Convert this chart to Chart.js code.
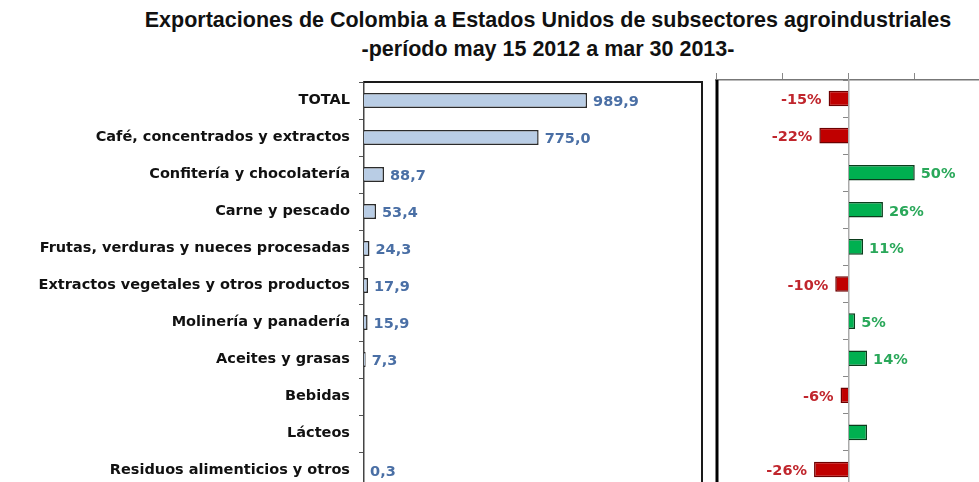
<!DOCTYPE html>
<html>
<head>
<meta charset="utf-8">
<script src="https://cdn.jsdelivr.net/npm/chart.js@4/dist/chart.umd.min.js"></script>
<style>
  html, body { margin: 0; padding: 0; background: #fff; overflow: hidden; width: 979px; height: 482px; }
  #titulo {
    position: absolute; left: 117px; top: 6px; width: 862px;
    text-align: center; font-family: "Liberation Sans", Arial, sans-serif;
    font-weight: bold; font-size: 21.5px; line-height: 29px; color: #111;
  }
  #izq { position: absolute; left: 0; top: 0; }
  #der { position: absolute; left: 700px; top: 0; }
</style>
</head>
<body>
<div id="titulo">Exportaciones de Colombia a Estados Unidos de subsectores agroindustriales<br>-período may 15 2012 a mar 30 2013-</div>
<canvas id="izq" width="712" height="491"></canvas>
<canvas id="der" width="284" height="491"></canvas>
<script>
const categorias = [
  'TOTAL',
  'Café, concentrados y extractos',
  'Confitería y chocolatería',
  'Carne y pescado',
  'Frutas, verduras y nueces procesadas',
  'Extractos vegetales y otros productos',
  'Molinería y panadería',
  'Aceites y grasas',
  'Bebidas',
  'Lácteos',
  'Residuos alimenticios y otros'
];
// millones de USD
const exportaciones = [989.9, 775.0, 88.7, 53.4, 24.3, 17.9, 15.9, 7.3, null, null, 0.3];
// variación %
const variacion = [-15, -22, 50, 26, 11, -10, 5, 14, -6, 14, -26];
const mostrarVariacion = [true, true, true, true, true, true, true, true, true, false, true];
const ticksVariacion = [-100, -50, 0, 50, 100];

const fuenteEtiq = 'bold 14.5px "DejaVu Sans", Verdana, sans-serif';

function etiquetas(id, formato, colorPos, colorNeg, mostrar) {
  return {
    id: id,
    afterDatasetsDraw(chart) {
      const ctx = chart.ctx;
      const meta = chart.getDatasetMeta(0);
      const datos = chart.data.datasets[0].data;
      ctx.save();
      ctx.font = fuenteEtiq;
      ctx.textBaseline = 'middle';
      meta.data.forEach((barra, i) => {
        const v = datos[i];
        if (v === null || !mostrar[i]) return;
        const txt = formato(v);
        if (v < 0) {
          ctx.textAlign = 'right';
          ctx.fillStyle = colorNeg;
          ctx.fillText(txt, barra.x - 7, barra.y + 2);
        } else {
          ctx.textAlign = 'left';
          ctx.fillStyle = colorPos;
          ctx.fillText(txt, barra.x + 6, barra.y + 2);
        }
      });
      ctx.restore();
    }
  };
}

const marcoIzq = {
  id: 'marcoIzq',
  afterDraw(chart) {
    const a = chart.chartArea;
    const ctx = chart.ctx;
    ctx.save();
    ctx.strokeStyle = '#1a1a1a';
    ctx.lineWidth = 2;
    ctx.beginPath();
    ctx.moveTo(a.left, a.top);
    ctx.lineTo(a.right, a.top);
    ctx.lineTo(a.right, a.bottom + 5);
    ctx.stroke();
    ctx.restore();
  }
};

const marcoDer = {
  id: 'marcoDer',
  afterDraw(chart) {
    const a = chart.chartArea;
    const ctx = chart.ctx;
    ctx.save();
    ctx.strokeStyle = '#000';
    ctx.lineWidth = 3;
    ctx.beginPath();
    ctx.moveTo(a.left + 1, a.top);
    ctx.lineTo(a.left + 1, a.bottom + 5);
    ctx.stroke();
    ctx.restore();
  }
};

const coma = v => v.toFixed(1).replace('.', ',');

new Chart(document.getElementById('izq'), {
  type: 'bar',
  data: {
    labels: categorias,
    datasets: [{
      data: exportaciones,
      backgroundColor: '#b9cde5',
      borderColor: '#2b2b2b',
      borderWidth: 1.5,
      borderSkipped: 'left',
      categoryPercentage: 1,
      barPercentage: 0.4
    }]
  },
  options: {
    indexAxis: 'y',
    responsive: false,
    animation: false,
    layout: { padding: { top: 82, right: 10, bottom: 2, left: 0 } },
    plugins: { legend: { display: false }, title: { display: false }, tooltip: { enabled: false } },
    scales: {
      x: { display: false, min: 0, max: 1500 },
      y: {
        afterFit: s => { s.width = 364; s.paddingTop = 0; s.paddingBottom = 0; },
        ticks: {
          color: '#111',
          padding: 9,
          font: { family: '"DejaVu Sans", Verdana, sans-serif', size: 14.5, weight: 'bold' }
        },
        grid: { drawOnChartArea: false, tickLength: 5, color: '#555', offset: true },
        border: { color: '#444', width: 1.5 }
      }
    }
  },
  plugins: [etiquetas('etiqIzq', coma, '#4a6fa5', '#4a6fa5', exportaciones.map(() => true)), marcoIzq]
});

new Chart(document.getElementById('der'), {
  type: 'bar',
  data: {
    labels: categorias,
    datasets: [{
      data: variacion,
      backgroundColor: variacion.map(v => v < 0 ? '#c00000' : '#00b050'),
      borderColor: variacion.map(v => v < 0 ? '#6e0000' : '#0b3d1c'),
      borderWidth: 1.5,
      borderSkipped: 'start',
      categoryPercentage: 1,
      barPercentage: 0.42
    }]
  },
  options: {
    indexAxis: 'y',
    responsive: false,
    animation: false,
    layout: { padding: { top: 0, right: 3, bottom: 3, left: 16 } },
    plugins: { legend: { display: false }, title: { display: false }, tooltip: { enabled: false } },
    scales: {
      x: {
        position: 'top',
        min: -100,
        max: 100,
        afterBuildTicks: s => { s.ticks = ticksVariacion.map(v => ({ value: v })); },
        afterFit: s => { s.height = 80; },
        ticks: { display: false },
        grid: { drawOnChartArea: false, tickLength: 7, color: '#888' },
        border: { color: '#777', width: 1.5 }
      },
      y: {
        position: { x: 0 },
        ticks: { display: false },
        grid: { drawOnChartArea: false, tickLength: 5, color: '#888', offset: true },
        border: { color: '#aaa', width: 1.5 }
      }
    }
  },
  plugins: [etiquetas('etiqDer', v => Math.round(v) + '%', '#2aa85a', '#c0262d', mostrarVariacion), marcoDer]
});
</script>
</body>
</html>
